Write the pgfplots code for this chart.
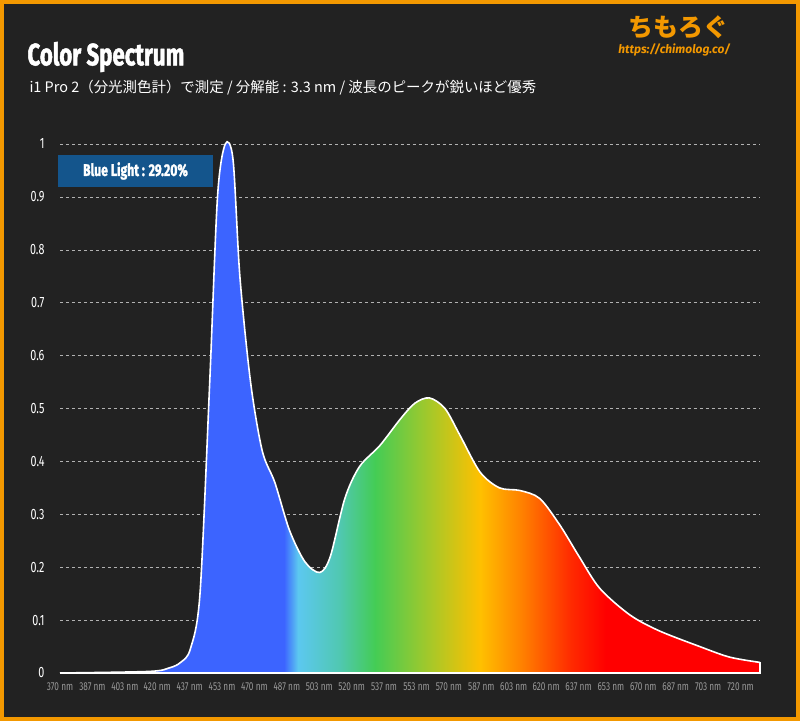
\documentclass[border=0pt]{standalone}
\usepackage{pgfplots}
\pgfplotsset{compat=1.18}
\usepackage{fontspec}
\setmainfont{Fira Sans}
\newfontfamily\cond[FakeStretch=0.72]{Fira Sans}
\newfontfamily\condb[FakeStretch=0.72,FakeBold=1.5]{Fira Sans Bold}
\newfontfamily\cjk{Noto Sans CJK JP}
\definecolor{bg}{HTML}{222222}
\definecolor{bord}{HTML}{F39800}
\definecolor{blue1}{HTML}{3C64FF}
\definecolor{lb}{HTML}{5CC8F0}
\definecolor{teal1}{HTML}{50C8B0}
\definecolor{gr}{HTML}{44CC55}
\definecolor{yg}{HTML}{A8C828}
\definecolor{yel}{HTML}{FFC000}
\definecolor{ora}{HTML}{FF8000}
\definecolor{red1}{HTML}{FF2A00}
\definecolor{red2}{HTML}{FF0000}
\pgfdeclarehorizontalshading{spectrum}{100bp}{
 color(0bp)=(blue1); color(41bp)=(blue1); color(42bp)=(lb); color(45bp)=(teal1);
 color(47.5bp)=(gr); color(51.5bp)=(yg); color(55bp)=(yel); color(58bp)=(ora);
 color(61.5bp)=(red1); color(64bp)=(red2); color(100bp)=(red2)}
\begin{document}
\begin{tikzpicture}[x=1bp,y=1bp]
\useasboundingbox (0,0) rectangle (800,721);
\fill[bg] (0,0) rectangle (800,721);
\draw[bord,line width=4bp] (2,2) rectangle (798,719);
\node[anchor=west,text=white,font=\condb\fontsize{31}{33}\selectfont] at (24,664) {Color Spectrum};
\node[anchor=west,text=white,font=\cjk\fontsize{14.5}{16}\selectfont] at (26,633) {i1 Pro 2（分光測色計）で測定 / 分解能 : 3.3 nm / 波長のピークが鋭いほど優秀};
\node[anchor=east,text=bord,font=\cjk\bfseries\fontsize{25}{27}\selectfont] at (732,694) {ちもろぐ};
\node[anchor=east,text=bord,font=\itshape\bfseries\fontsize{12}{13}\selectfont] at (734,671) {https://chimolog.co/};
\begin{axis}[at={(60bp,48bp)},anchor=south west,scale only axis,
 width=700bp,height=529bp,xmin=370,xmax=730,ymin=0,ymax=1,clip=false,
 axis line style={draw=none},
 ymajorgrids,grid style={dashed,gray!60,line width=0.4pt},
 ytick={0,0.1,...,1},yticklabels={0,0.1,0.2,0.3,0.4,0.5,0.6,0.7,0.8,0.9,1},
 xtick={370,386.67,403.33,420,436.67,453.33,470,486.67,503.33,520,536.67,553.33,570,586.67,603.33,620,636.67,653.33,670,686.67,703.33,720},
 xticklabels={370 nm,387 nm,403 nm,420 nm,437 nm,453 nm,470 nm,487 nm,503 nm,520 nm,537 nm,553 nm,570 nm,587 nm,603 nm,620 nm,637 nm,653 nm,670 nm,687 nm,703 nm,720 nm},
 major tick length=0pt,
 x tick label style={text=gray!80,font=\cond\fontsize{11.5}{12}\selectfont,yshift=-6bp},
 y tick label style={text=white,font=\cond\fontsize{15}{16}\selectfont,xshift=-12bp},
 /pgf/number format/assume math mode=true]
\addplot[shading=spectrum,draw=none,smooth,tension=0.5] coordinates {
(370,0)(416,0.003)(426.5,0.01)(432,0.02)(437,0.045)(442,0.15)(447,0.55)(451,0.9)(455,1.0)(459,0.97)(462.5,0.75)(468,0.55)(474,0.42)(480.5,0.36)(488,0.27)(496,0.21)(503.6,0.19)(509,0.22)(516.5,0.33)(524,0.39)(534.5,0.43)(545,0.48)(552.5,0.51)(560,0.52)(568,0.50)(575.6,0.45)(586,0.38)(596,0.35)(606.5,0.345)(616.7,0.33)(627,0.28)(637,0.22)(647.6,0.16)(663,0.11)(678,0.08)(699,0.05)(714.4,0.03)(730,0.02)} \closedcycle;
\addplot[white,line width=1.6pt,smooth,tension=0.5] coordinates {
(370,0)(416,0.003)(426.5,0.01)(432,0.02)(437,0.045)(442,0.15)(447,0.55)(451,0.9)(455,1.0)(459,0.97)(462.5,0.75)(468,0.55)(474,0.42)(480.5,0.36)(488,0.27)(496,0.21)(503.6,0.19)(509,0.22)(516.5,0.33)(524,0.39)(534.5,0.43)(545,0.48)(552.5,0.51)(560,0.52)(568,0.50)(575.6,0.45)(586,0.38)(596,0.35)(606.5,0.345)(616.7,0.33)(627,0.28)(637,0.22)(647.6,0.16)(663,0.11)(678,0.08)(699,0.05)(714.4,0.03)(730,0.02)};
\addplot[white,line width=1.6pt] coordinates {(730,0.02)(730,0)(370,0)};
\end{axis}
\fill[fill={rgb,255:red,20;green,85;blue,140}] (58,534) rectangle (213,566);
\node[text=white,font=\condb\fontsize{17}{18}\selectfont] at (135.5,550) {Blue Light : 29.20\%};
\end{tikzpicture}
\end{document}
